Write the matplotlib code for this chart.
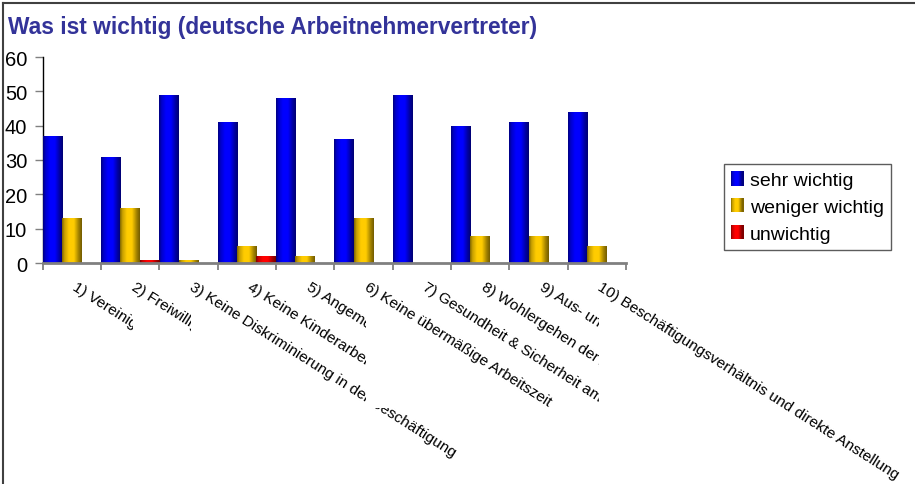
import numpy as np
import matplotlib
matplotlib.use("Agg")
import matplotlib.pyplot as plt
import matplotlib.transforms as mtransforms
from matplotlib.patches import Rectangle
from matplotlib.legend_handler import HandlerBase
from matplotlib.lines import Line2D
from matplotlib.colors import to_rgb

# ---------------- data ----------------
categories = [
    "1) Vereinigungsfreiheit",
    "2) Freiwillige Beschäftigung",
    "3) Keine Diskriminierung in der Beschäftigung",
    "4) Keine Kinderarbeit",
    "5) Angemessener Lohn",
    "6) Keine übermäßige Arbeitszeit",
    "7) Gesundheit & Sicherheit am Arbeitsplatz",
    "8) Wohlergehen der Arbeitnehmer",
    "9) Aus- und Weiterbildung",
    "10) Beschäftigungsverhältnis und direkte Anstellung",
]
sehr_wichtig = [37, 31, 49, 41, 48, 36, 49, 40, 41, 44]
weniger_wichtig = [13, 16, 1, 5, 2, 13, 0, 8, 8, 5]
unwichtig = [0, 1, 0, 2, 0, 0, 0, 0, 0, 0]
series_names = ["sehr wichtig", "weniger wichtig", "unwichtig"]
y_ticks = [0, 10, 20, 30, 40, 50, 60]
title = "Was ist wichtig (deutsche Arbeitnehmervertreter)"

# ---------------- style ----------------
FONT = "Liberation Sans"
plt.rcParams["font.family"] = [FONT, "DejaVu Sans"]
colors = ["#0000FF", "#FFCC00", "#FF0000"]
prof_x = [0.0, 0.12, 0.35, 0.6, 0.85, 1.0]
prof_y = [0.50, 0.78, 1.0, 1.0, 0.62, 0.45]


def shade(t):
    return np.interp(t, prof_x, prof_y)


def gradient_image(color, n=64):
    t = np.linspace(0, 1, n)
    f = shade(t)[:, None]
    rgb = np.array(to_rgb(color))[None, :] * f
    return rgb[None, :, :]


W, H = 915, 485
fig = plt.figure(figsize=(W / 100, H / 100), dpi=100)
fig.patch.set_facecolor("white")

ax = fig.add_axes([42.5 / W, 221 / H, (626 - 42.5) / W, 206 / H])
ax.set_facecolor("none")

n = len(categories)
x = np.arange(n)
bw = 1 / 3
all_series = [sehr_wichtig, weniger_wichtig, unwichtig]
for s, (vals, col) in enumerate(zip(all_series, colors)):
    bars = ax.bar(x - 0.5 + bw * (s + 0.5), vals, width=bw, color=col,
                  edgecolor="none", zorder=2)
    img = gradient_image(col)
    for b in bars:
        if b.get_height() <= 0:
            continue
        x0, y0 = b.get_x(), b.get_y()
        im = ax.imshow(img, extent=(x0, x0 + b.get_width(), y0, y0 + b.get_height()),
                       aspect="auto", interpolation="bilinear", zorder=3)
        im.set_clip_path(b)

ax.set_xlim(-0.5, n - 0.5)
ax.set_ylim(0, 60)
ax.set_yticks(y_ticks)
ax.set_yticklabels([str(v) for v in y_ticks])
ax.set_xticks(np.arange(n + 1) - 0.5)
ax.set_xticklabels([])
ax.tick_params(axis="y", direction="out", length=6, width=1, color="#808080",
               labelsize=14.5, pad=5, labelcolor="black")
ax.tick_params(axis="x", direction="out", length=5, width=1.3, color="#808080")
for sp in ["top", "right"]:
    ax.spines[sp].set_visible(False)
ax.spines["left"].set_color("black")
ax.spines["left"].set_linewidth(1.0)
ax.spines["bottom"].set_color("#808080")
ax.spines["bottom"].set_linewidth(2.0)
ax.spines["bottom"].set_zorder(4)

# ---------------- category labels (figure-level for layering) ----------------
masked = {1, 2, 5, 9}   # labels whose white box hides earlier labels
label_texts = []
for i, lab in enumerate(categories):
    tr = mtransforms.offset_copy(ax.transData, fig=fig, x=6, y=-16, units="dots")
    t = fig.text(i, 0, lab, transform=tr, rotation=-32.5, rotation_mode="anchor",
                 ha="left", va="top", fontsize=11.05, color="black",
                 zorder=20 + 2 * i)
    label_texts.append(t)

fig.canvas.draw()
renderer = fig.canvas.get_renderer()
for i, t in enumerate(label_texts):
    if i in masked:
        bb = t.get_window_extent(renderer)
        r = Rectangle((bb.x0 + 4, bb.y0), bb.width - 4, bb.height,
                      transform=mtransforms.IdentityTransform(),
                      facecolor="white", edgecolor="none", zorder=19 + 2 * i)
        fig.add_artist(r)

# ---------------- title ----------------
fig.text(8 / W, 1 - 34 / H, title, ha="left", va="baseline", fontsize=16.4,
         fontweight="bold", color="#333399")

# ---------------- legend ----------------
class GradHandler(HandlerBase):
    def create_artists(self, legend, orig_handle, xdescent, ydescent, width,
                       height, fontsize, trans):
        col = orig_handle.get_facecolor()
        m = 12
        arts = []
        for k in range(m):
            f = shade((k + 0.5) / m)
            c = np.array(col[:3]) * f
            arts.append(Rectangle((-xdescent + k * width / m, -ydescent),
                                  width / m + 0.05, height, facecolor=c,
                                  edgecolor="none", transform=trans))
        return arts


proxies = [Rectangle((0, 0), 1, 1, facecolor=c) for c in colors]
leg = fig.legend(proxies, series_names, loc="upper left",
                 bbox_to_anchor=(724 / W, 1 - 165 / H), borderaxespad=0,
                 frameon=True, fancybox=False, edgecolor="#333333",
                 prop={"family": FONT, "size": 14}, handlelength=0.62,
                 handleheight=0.75, handletextpad=0.33, labelspacing=0.45,
                 borderpad=0.38,
                 handler_map={Rectangle: GradHandler()})
leg.get_frame().set_linewidth(1.0)

# ---------------- chart border ----------------
fig.add_artist(Line2D([3 / W, 1], [1 - 4 / H, 1 - 4 / H], transform=fig.transFigure,
                      color="#404040", lw=1.5))
fig.add_artist(Line2D([3 / W, 3 / W], [0, 1 - 4 / H], transform=fig.transFigure,
                      color="#404040", lw=1.5))

fig.savefig("out.png", dpi=100, facecolor="white")
